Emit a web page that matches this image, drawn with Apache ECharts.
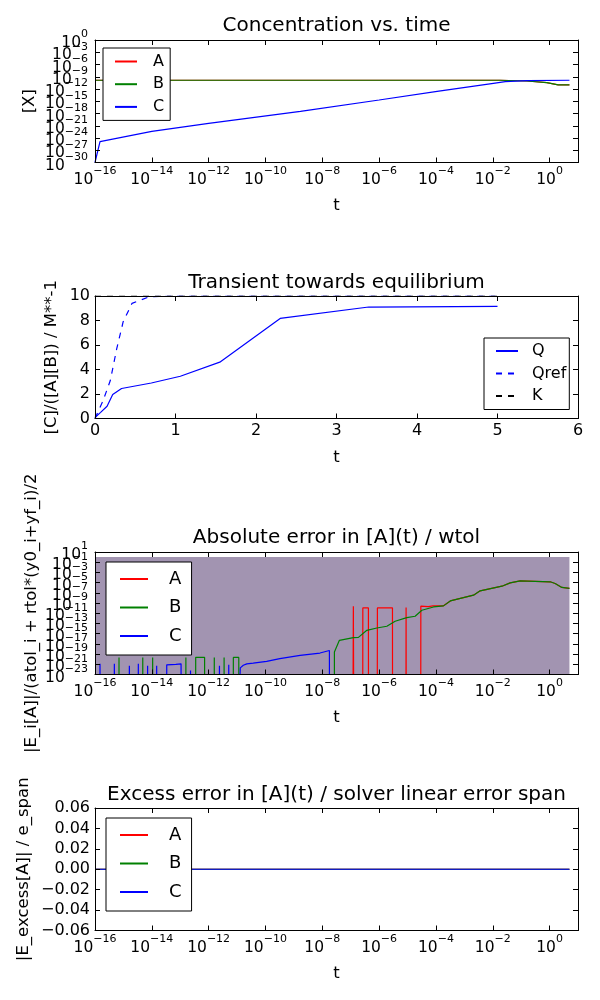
<!DOCTYPE html>
<html>
<head>
<meta charset="utf-8">
<script src="https://cdn.jsdelivr.net/npm/echarts@6.0.0/dist/echarts.min.js"></script>
<style>html,body{margin:0;padding:0;background:#fff;}#chart{width:600px;height:1000px;}</style>
</head>
<body>
<div id="chart"></div>
<script>
// ---------------- Panel 1: Concentration vs. time ----------------
const concA_t = [1e-16, 1e-3, 1.8e-2, 0.16, 0.8, 2.0, 5.0];
const concA   = [1.4e-10, 1.4e-10, 1.4e-10, 9e-11, 3.6e-11, 1.0e-11, 1.0e-11];
const concB_t = [1e-16, 1e-3, 1.8e-2, 0.16, 0.8, 2.0, 5.0];
const concB   = [1.4e-10, 1.4e-10, 1.4e-10, 9e-11, 3.6e-11, 1.0e-11, 1.0e-11];
const concC_t = [1e-16, 1.5e-16, 1e-14, 1e-12, 1.7e-9, 1e-6, 1.1e-4, 1.05e-2, 2.75e-2, 0.16, 5];
const concC   = [1e-30, 1.3e-25, 4e-23, 4e-21, 3.2e-18, 2e-15, 2.5e-13, 2.5e-11, 6.3e-11, 1.1e-10, 1.4e-10];

// ---------------- Panel 2: Transient towards equilibrium ----------------
const Q_t    = [0, 0.07, 0.15, 0.22, 0.33, 0.70, 1.06, 1.55, 2.30, 3.40, 5.0];
const Q      = [0.08, 0.5, 1.0, 1.95, 2.45, 2.9, 3.45, 4.6, 8.17, 9.1, 9.15];
const Qref_t = [0, 0.10, 0.19, 0.27, 0.35, 0.46, 0.68, 1.0, 5.0];
const Qref   = [0, 1.45, 3.1, 5.7, 7.9, 9.4, 9.95, 10, 10];
const K_t    = [0, 5.0];
const K      = [10, 10];

// ---------------- Panel 3: Absolute error in [A](t) / wtol ----------------
// [t, value] pairs; 1e-30 stands for an error of zero (falls below the bottom edge)
const errA = [
  [1e-16, 1e-30], [1.2e-7, 1e-30], [1.24e-7, 2.4e-10], [1.28e-7, 1e-30],
  [2.65e-7, 1e-30], [2.67e-7, 1.1e-10], [4.2e-7, 1.1e-10], [4.22e-7, 1e-30],
  [8.6e-7, 1e-30], [8.7e-7, 1.1e-10], [2.95e-6, 1.1e-10], [2.97e-6, 1e-30],
  [8.8e-6, 1e-30], [8.9e-6, 1.3e-10], [9.0e-6, 1e-30],
  [2.92e-5, 1e-30], [2.94e-5, 2.4e-10], [5.4e-5, 2.0e-10], [7.9e-5, 2.7e-10], [1.84e-4, 2.9e-10],
  [3.2e-4, 2.6e-9], [2.1e-3, 3.5e-8], [3.6e-3, 2.5e-7], [2.1e-2, 2.0e-6], [4.1e-2, 9.1e-6],
  [9.2e-2, 2.2e-5], [1.05, 1.45e-5], [1.57, 6.9e-6], [2.7, 1.15e-6], [5.0, 7.2e-7]
];
const errB = [
  [1e-16, 1e-30],
  [6.95e-16, 1e-30], [7.0e-16, 2.2e-20], [7.05e-16, 1e-30],
  [4.77e-15, 1e-30], [4.8e-15, 2.2e-20], [4.83e-15, 1e-30],
  [1.065e-14, 1e-30], [1.07e-14, 2.2e-20], [1.075e-14, 1e-30],
  [1.57e-13, 1e-30], [1.58e-13, 2.2e-20], [1.59e-13, 1e-30],
  [3.49e-13, 1e-30], [3.5e-13, 2.3e-20], [7.2e-13, 2.3e-20], [7.22e-13, 1e-30],
  [1.57e-12, 1e-30], [1.58e-12, 2.2e-20], [1.59e-12, 1e-30],
  [3.48e-12, 1e-30], [3.5e-12, 2.2e-20], [3.52e-12, 1e-30],
  [7.38e-12, 1e-30], [7.4e-12, 2.2e-20], [1.15e-11, 2.2e-20], [1.152e-11, 1e-30],
  [2.66e-8, 1e-30], [2.67e-8, 2.5e-19], [4.0e-8, 4.9e-17], [1.24e-7, 1.7e-16], [1.87e-7, 1.9e-16],
  [3.7e-7, 4.5e-15], [8.3e-7, 1.3e-14], [1.87e-6, 2.8e-14], [3.66e-6, 2.7e-13], [9.4e-6, 1.4e-12],
  [1.85e-5, 2.6e-12], [3.2e-5, 3.9e-11], [8.2e-5, 1.7e-10], [1.84e-4, 2.8e-10], [3.2e-4, 2.6e-9],
  [2.1e-3, 3.5e-8], [3.6e-3, 2.5e-7], [2.1e-2, 2.0e-6], [4.1e-2, 9.1e-6], [9.2e-2, 2.2e-5],
  [1.05, 1.45e-5], [1.57, 6.9e-6], [2.7, 1.15e-6], [5.0, 7.2e-7]
];
const errC = [
  [1e-16, 1e-30],
  [1.48e-16, 1e-30], [1.5e-16, 1.3e-21], [1.52e-16, 1e-30],
  [4.75e-16, 1e-30], [4.8e-16, 1.3e-21], [4.85e-16, 1e-30],
  [1.6e-15, 1e-30], [1.62e-15, 5e-22], [1.64e-15, 1e-30],
  [3.32e-15, 1e-30], [3.35e-15, 1.3e-21], [3.38e-15, 1e-30],
  [7.05e-15, 1e-30], [7.1e-15, 5e-22], [7.15e-15, 1e-30],
  [1.47e-14, 1e-30], [1.48e-14, 5e-22], [1.49e-14, 1e-30],
  [3.33e-14, 1e-30], [3.35e-14, 8e-22], [7.0e-14, 1.0e-21], [1.07e-13, 1.26e-21], [1.075e-13, 1e-30],
  [2.28e-13, 1e-30], [2.3e-13, 6e-23], [2.32e-13, 1e-30],
  [2.38e-12, 1e-30], [2.4e-12, 5e-22], [2.42e-12, 1e-30],
  [5.05e-12, 1e-30], [5.1e-12, 8e-22], [5.15e-12, 1e-30],
  [1.16e-11, 1e-30], [1.3e-11, 2e-22], [1.66e-11, 6.3e-22], [2.2e-11, 1.2e-21], [3.7e-11, 1.66e-21],
  [1.1e-10, 3.6e-21], [3.2e-10, 1.26e-20], [1.66e-9, 5.6e-20], [8.3e-9, 1.6e-19], [1.78e-8, 5e-19],
  [1.79e-8, 1e-30], [5.0, 1e-30]
];
const tol_t = [1e-16, 5.0];
const tol   = [1, 1];

// ---------------- Panel 4: Excess error ----------------
const excess_t = [1e-16, 5.0];
const excessA  = [0, 0];
const excessB  = [0, 0];
const excessC  = [0, 0];

// ---------------- Text ----------------
const titles = ['Concentration vs. time', 'Transient towards equilibrium',
  'Absolute error in [A](t) / wtol', 'Excess error in [A](t) / solver linear error span'];
const yNames = ['[X]', '[C]/([A][B]) / M**-1', '|E_i[A]|/(atol_i + rtol*(y0_i+yf_i)/2', '|E_excess[A]| / e_span'];

// ---------------- Layout / style ----------------
const FONT = 'DejaVu Sans';
const RED = '#ff0000', GREEN = '#008000', BLUE = '#0000ff';
const TOPS = [40, 296, 552, 808];
const H = 122.5;
const TICK_FS = 16, NAME_FS = 16.5, TITLE_FS = 20;

const pairs = (ts, vs) => ts.map((t, i) => [t, vs[i]]);
// log-scaled y axes (panels 1 and 3) use a linear axis measured in decades
const decades = (pts) => pts.map(([t, v]) => [t, Math.log10(v)]);

const supText = (e) => '{b|10}{s|' + (e < 0 ? '\u2212' + (-e) : String(e)) + '}';
function powFmtLog(minExp, step) {      // native log axes (value = power of ten)
  return function (v) {
    const e = Math.round(Math.log10(v));
    if ((((e - minExp) % step) + step) % step !== 0) return '';
    return supText(e);
  };
}
// decade axes; parity selects every other tick so neighbouring labels are split over two axes
function powFmtDec(minExp, step, parity) {
  return function (v) {
    const e = Math.round(v);
    const k = Math.round((e - minExp) / step);
    if (Math.abs(e - minExp - k * step) > 1e-6) return '';
    if (parity != null && k % 2 !== parity) return '';
    return supText(e);
  };
}
const rich = {
  b: { fontSize: 15.5, lineHeight: 22, verticalAlign: 'bottom', fontFamily: FONT, color: '#000' },
  s: { fontSize: 11, lineHeight: 12, verticalAlign: 'top', fontFamily: FONT, color: '#000' }
};

function baseAxis(grid, cfg) {
  return {
    gridIndex: grid, type: cfg.type, min: cfg.min, max: cfg.max, interval: cfg.interval,
    splitLine: { show: false }, minorTick: { show: false },
    axisLine: { show: true, onZero: false, lineStyle: { color: '#000', width: 1 } },
    axisTick: { show: true, inside: true, length: 5, lineStyle: { color: '#000', width: 1 } },
    z: 10, silent: true
  };
}
function mainAxis(kind, grid, cfg) {
  return Object.assign(baseAxis(grid, cfg), {
    position: kind === 'x' ? 'bottom' : 'left',
    axisLabel: {
      show: true, formatter: cfg.fmt, rich: cfg.rich, color: '#000', fontSize: TICK_FS, fontFamily: FONT,
      margin: cfg.margin, showMinLabel: true, showMaxLabel: true, hideOverlap: false
    },
    name: cfg.name, nameLocation: 'middle', nameGap: cfg.nameGap, nameRotate: kind === 'y' ? 90 : 0,
    nameMoveOverlap: false,
    nameTextStyle: { fontSize: NAME_FS, fontFamily: FONT, color: '#000' }
  });
}
function mirrorAxis(kind, grid, cfg) {
  return Object.assign(baseAxis(grid, cfg), {
    position: kind === 'x' ? 'top' : 'right',
    axisLabel: { show: false }
  });
}
// second left axis carrying the odd-indexed labels of a decade axis
function oddLabelAxis(grid, cfg) {
  return Object.assign(baseAxis(grid, cfg), {
    position: 'left',
    axisLine: { show: false },
    axisLabel: {
      show: true, formatter: powFmtDec(cfg.minExp, cfg.interval, 1), rich, color: '#000', fontSize: TICK_FS,
      fontFamily: FONT, margin: cfg.margin, showMinLabel: false, showMaxLabel: false, hideOverlap: false
    }
  });
}

const xLogCfg = { type: 'log', min: 1e-16, max: 10, interval: 2, fmt: powFmtLog(-16, 2), rich, margin: 3, name: 't', nameGap: 35 };
const xLinCfg = { type: 'value', min: 0, max: 6, interval: 1, fmt: (v) => String(v), margin: 4, name: 't', nameGap: 31 };
const y1Cfg = { type: 'value', min: -30, max: 0, interval: 3, minExp: -30, fmt: powFmtDec(-30, 3, 0), rich, margin: 7, name: yNames[0], nameGap: 57 };
const y2Cfg = { type: 'value', min: 0, max: 10, interval: 2, fmt: (v) => String(v), margin: 5, name: yNames[1], nameGap: 35 };
const y3Cfg = { type: 'value', min: -23, max: 1, interval: 2, minExp: -23, fmt: powFmtDec(-23, 2, 0), rich, margin: 7, name: yNames[2], nameGap: 55 };
const y4Cfg = { type: 'value', min: -0.06, max: 0.06, interval: 0.02,
  fmt: (v) => Math.abs(v) < 1e-9 ? '0.00' : (v < 0 ? '\u2212' + Math.abs(v).toFixed(2) : v.toFixed(2)),
  margin: 5, name: yNames[3], nameGap: 63 };

const xCfgs = [xLogCfg, xLinCfg, xLogCfg, xLogCfg];
const yCfgs = [y1Cfg, y2Cfg, y3Cfg, y4Cfg];
const xAxes = [];
const yAxes = [];
xCfgs.forEach((c, g) => { xAxes.push(mainAxis('x', g, c), mirrorAxis('x', g, c)); });
yCfgs.forEach((c, g) => { yAxes.push(mainAxis('y', g, c), mirrorAxis('y', g, c)); });
yAxes.push(oddLabelAxis(0, y1Cfg), oddLabelAxis(2, y3Cfg));

function line(name, axis, data, color, extra) {
  return Object.assign({
    type: 'line', name, xAxisIndex: axis * 2, yAxisIndex: axis * 2, data,
    symbol: 'none', showSymbol: false, clip: true, animation: false, silent: true,
    color, itemStyle: { color }, lineStyle: { color, width: 1.2 }, z: 3
  }, extra || {});
}

const series = [
  line('A', 0, decades(pairs(concA_t, concA)), RED),
  line('B', 0, decades(pairs(concB_t, concB)), GREEN),
  line('C', 0, decades(pairs(concC_t, concC)), BLUE),

  line('Q', 1, pairs(Q_t, Q), BLUE),
  line('Qref', 1, pairs(Qref_t, Qref), BLUE, { lineStyle: { color: BLUE, width: 1.2, type: [6, 6] } }),
  line('K', 1, pairs(K_t, K), '#000', { lineStyle: { color: '#000', width: 1.2, type: [6, 6] } }),

  line('tol', 2, decades(pairs(tol_t, tol)), '#a294b1', { lineStyle: { width: 0, color: '#a294b1' }, areaStyle: { color: '#a294b1', opacity: 1, origin: 'start' }, z: 1 }),
  line('A', 2, decades(errA), RED),
  line('B', 2, decades(errB), GREEN),
  line('C', 2, decades(errC), BLUE),

  line('A', 3, pairs(excess_t, excessA), RED),
  line('B', 3, pairs(excess_t, excessB), GREEN),
  line('C', 3, pairs(excess_t, excessC), BLUE)
];

function legendBox(names, left, top, fontSize, lineH, gap, iconW, pad, textPadLeft) {
  return {
    data: names, orient: 'vertical', left, top, padding: pad,
    backgroundColor: '#fff', borderColor: '#000', borderWidth: 1, borderRadius: 0,
    itemWidth: iconW, itemHeight: lineH, itemGap: gap,
    itemStyle: { opacity: 0 }, selectedMode: false,
    textStyle: { fontSize, fontFamily: FONT, color: '#000', lineHeight: lineH, padding: [0, 0, 0, textPadLeft] },
    z: 20
  };
}

const option = {
  animation: false,
  backgroundColor: '#fff',
  title: titles.map((t, i) => ({
    text: t, left: 336.5, top: [16, 272.5, 528, 784.5][i], textAlign: 'center', padding: 0,
    textStyle: { fontSize: TITLE_FS, fontWeight: 'normal', fontFamily: FONT, color: '#000' }
  })),
  grid: TOPS.map((t) => ({ left: 95, top: t, width: 483, height: H, show: false, containLabel: false })),
  xAxis: xAxes,
  yAxis: yAxes,
  legend: [
    legendBox(['A', 'B', 'C'], 103, 48, 16, 17, 5.7, 22, [5, 6, 5, 11], 11),
    legendBox(['Q', 'Qref', 'K'], 484, 338, 16, 17, 5.5, 22, [4.5, 3, 5, 11], 9),
    legendBox(['A', 'B', 'C'], 106, 562, 18, 20, 8.5, 28, [7, 10, 9, 13], 16),
    legendBox(['A', 'B', 'C'], 106, 818, 18, 20, 8.5, 28, [7, 10, 9, 13], 16)
  ],
  series
};

const chart = echarts.init(document.getElementById('chart'), null, { renderer: 'canvas' });
chart.setOption(option);
</script>
</body>
</html>
